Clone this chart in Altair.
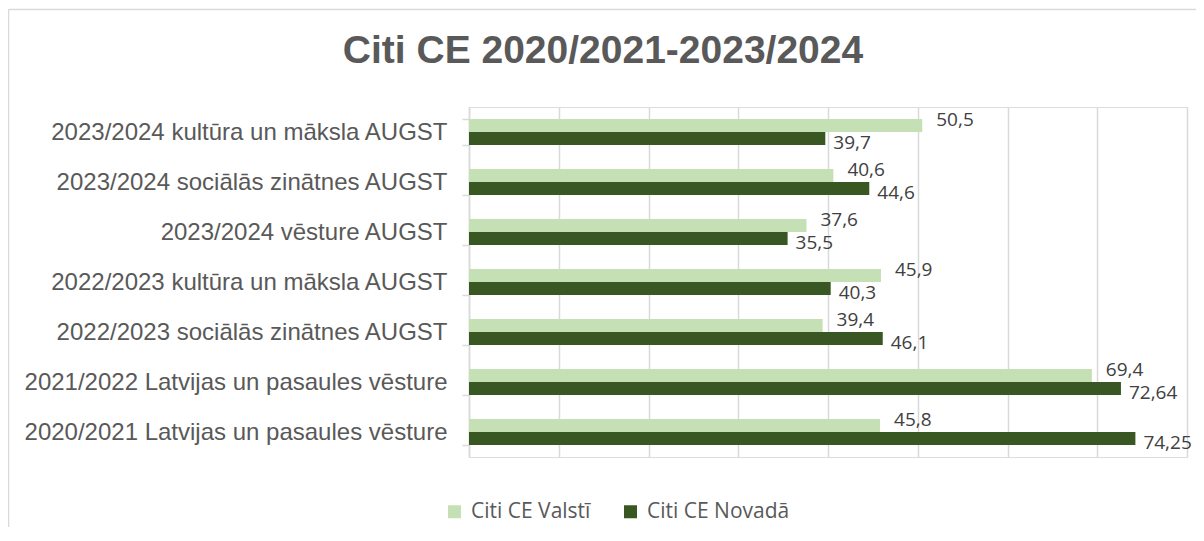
import altair as alt
import pandas as pd

categories = [
    "2023/2024 kultūra un māksla AUGST",
    "2023/2024 sociālās zinātnes AUGST",
    "2023/2024 vēsture AUGST",
    "2022/2023 kultūra un māksla AUGST",
    "2022/2023 sociālās zinātnes AUGST",
    "2021/2022 Latvijas un pasaules vēsture",
    "2020/2021 Latvijas un pasaules vēsture",
]
valsti = [50.5, 40.6, 37.6, 45.9, 39.4, 69.4, 45.8]
novada = [39.7, 44.6, 35.5, 40.3, 46.1, 72.64, 74.25]
series = ["Citi CE  Valstī", "Citi CE  Novadā"]
colors = ["#c5e0b4", "#385723"]
x_ticks = [0, 10, 20, 30, 40, 50, 60, 70, 80]

rows = []
for c, v, n in zip(categories, valsti, novada):
    rows.append({"cat": c, "series": series[0], "value": v, "label": str(v).replace(".", ",")})
    rows.append({"cat": c, "series": series[1], "value": n, "label": str(n).replace(".", ",")})
df = pd.DataFrame(rows)

x_enc = alt.X(
    "value:Q",
    scale=alt.Scale(domain=[0, 80], nice=False, zero=True),
    axis=alt.Axis(values=x_ticks, labels=False, ticks=False, domain=False, grid=True,
                  gridColor="#d9d9d9", gridWidth=1.5, title=None),
)
y_enc = alt.Y(
    "cat:N",
    sort=categories,
    scale=alt.Scale(paddingInner=0.48, paddingOuter=0.24),
    axis=alt.Axis(title=None, tickBand="extent", tickSize=7, tickColor="#d9d9d9",
                  domainColor="#d9d9d9", domainWidth=1.5, tickWidth=1.5,
                  labelFont="Liberation Sans", labelFontSize=24,
                  labelColor="#595959", labelPadding=15, labelLimit=0, grid=False),
)
yoff = alt.YOffset("series:N", sort=series, scale=alt.Scale(domain=series, paddingInner=0, paddingOuter=0))

base = alt.Chart(df)

bars = base.mark_bar().encode(
    x=x_enc,
    y=y_enc,
    yOffset=yoff,
    color=alt.Color(
        "series:N",
        sort=series,
        scale=alt.Scale(domain=series, range=colors),
        legend=alt.Legend(
            title=None, orient="none", direction="horizontal", legendX=-25, legendY=394,
            symbolType="square", symbolSize=169, symbolStrokeWidth=0, symbolOpacity=1,
            labelFont="Open Sans", labelFontSize=21, labelColor="#595959",
            labelOffset=6, columnPadding=24,
        ),
    ),
)

text_light = base.transform_filter(alt.datum.series == series[0]).mark_text(
    align="left", baseline="middle", dx=14, dy=-6, font="Open Sans", fontSize=19, color="#404040"
).encode(x=x_enc, y=y_enc, yOffset=yoff, text="label:N")
text_dark = base.transform_filter(alt.datum.series == series[1]).mark_text(
    align="left", baseline="middle", dx=8, dy=4, font="Open Sans", fontSize=19, color="#404040"
).encode(x=x_enc, y=y_enc, yOffset=yoff, text="label:N")

frame = alt.Chart(alt.Data(values=[{"a": 1}]))
frame_top = frame.mark_rule(color="#d9d9d9", strokeWidth=1.5).encode(
    x=alt.value(-460.5), x2=alt.value(727), y=alt.value(-97.5)
)
frame_left = frame.mark_rule(color="#d9d9d9", strokeWidth=1.5).encode(
    x=alt.value(-460.5), y=alt.value(-97.5), y2=alt.value(426)
)

chart = alt.layer(frame_top, frame_left, bars, text_light, text_dark).properties(
    width=718,
    height=350,
    autosize=alt.AutoSizeParams(type="none"),
    padding={"left": 461, "top": 99, "right": 9, "bottom": 70},
    title=alt.TitleParams(
        text="Citi CE 2020/2021-2023/2024",
        font="Liberation Sans", fontSize=39, fontWeight="bold", color="#595959",
        anchor="middle", frame="group", dx=-225, offset=-62,
    ),
).configure_view(stroke=None).configure(background="white")

chart.save("out.html", embed_options={"renderer": "svg", "actions": False})
